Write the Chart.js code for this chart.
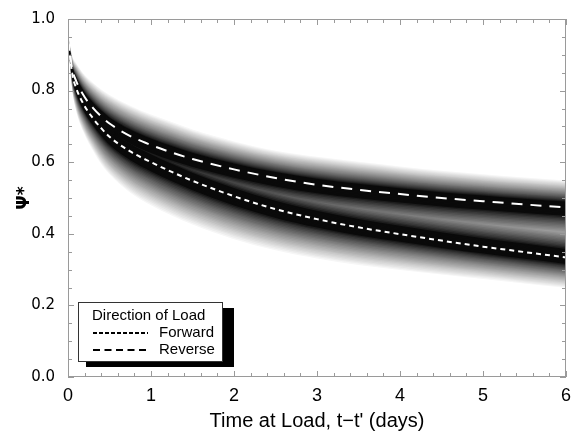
<!DOCTYPE html>
<html>
<head>
<meta charset="utf-8">
<script src="https://cdn.jsdelivr.net/npm/chart.js@4.4.1/dist/chart.umd.min.js"></script>
<style>
  html, body { margin: 0; padding: 0; background: #fff; }
  #wrap { width: 578px; height: 441px; }
</style>
</head>
<body>
<div id="wrap"><canvas id="c" width="578" height="441"></canvas></div>
<script>
// ---- data ----
const timeDays   = [0, 0.05, 0.1, 0.2, 0.3, 0.4, 0.5, 0.75, 1, 1.25, 1.5, 2, 2.5, 3, 3.5, 4, 4.5, 5, 5.5, 6];
const reversePsi = [0.95, 0.862, 0.826, 0.782, 0.752, 0.728, 0.708, 0.673, 0.648, 0.627, 0.609, 0.580, 0.556, 0.537, 0.523, 0.511, 0.500, 0.491, 0.482, 0.474];
const forwardPsi = [0.95, 0.848, 0.806, 0.757, 0.723, 0.695, 0.671, 0.630, 0.600, 0.573, 0.548, 0.505, 0.469, 0.441, 0.418, 0.399, 0.381, 0.364, 0.349, 0.334];
// extent of the grey density cloud above / below each curve
const reverseUp   = [0.01, 0.035, 0.05, 0.062, 0.07, 0.075, 0.08, 0.085, 0.085, 0.085, 0.082, 0.078, 0.076, 0.078, 0.078, 0.077, 0.076, 0.075, 0.075, 0.075];
const reverseDown = [0.01, 0.04, 0.055, 0.07, 0.08, 0.09, 0.095, 0.1, 0.105, 0.105, 0.105, 0.108, 0.11, 0.11, 0.11, 0.11, 0.11, 0.11, 0.11, 0.11];
const forwardUp   = [0.01, 0.04, 0.055, 0.07, 0.08, 0.09, 0.095, 0.1, 0.105, 0.105, 0.105, 0.108, 0.11, 0.11, 0.11, 0.11, 0.11, 0.11, 0.11, 0.11];
const forwardDown = [0.01, 0.045, 0.065, 0.08, 0.09, 0.1, 0.105, 0.115, 0.12, 0.122, 0.122, 0.12, 0.115, 0.11, 0.105, 0.1, 0.095, 0.09, 0.088, 0.085];
const xTicks = [0, 1, 2, 3, 4, 5, 6];
const yTicks = [0.0, 0.2, 0.4, 0.6, 0.8, 1.0];
const seriesNames = ['Forward', 'Reverse'];

// ---- build datasets ----
const N = 28;
function shade(f) {
  const u = Math.max(0, Math.min(1, (f - 0.2) / 0.8));
  const g = Math.round(10 + 240 * Math.pow(u, 0.8));
  return `rgb(${g},${g},${g})`;
}
const pts = (arr) => timeDays.map((t, i) => ({ x: t, y: arr[i] }));
const datasets = [];
const curves = [
  { c: reversePsi, up: reverseUp, dn: reverseDown },
  { c: forwardPsi, up: forwardUp, dn: forwardDown }
];
const bandBase = { pointRadius: 0, borderWidth: 0, cubicInterpolationMode: 'monotone' };
for (let k = N; k >= 1; k--) {
  const f = k / N;
  const col = shade((k - 0.5) / N);
  for (const cv of curves) {
    const upper = cv.c.map((v, i) => v + cv.up[i] * f);
    const lower = cv.c.map((v, i) => v - cv.dn[i] * f);
    const idx = datasets.length;
    datasets.push(Object.assign({ data: pts(upper), fill: false, order: k + 1, borderColor: 'rgba(0,0,0,0)' }, bandBase));
    datasets.push(Object.assign({ data: pts(lower), fill: { target: idx }, backgroundColor: col, order: k + 1, borderColor: 'rgba(0,0,0,0)' }, bandBase));
  }
}
datasets.push({ label: seriesNames[1], data: pts(reversePsi), borderColor: '#ffffff', borderWidth: 2, borderDash: [11, 8], pointRadius: 0, fill: false, order: 0, cubicInterpolationMode: 'monotone' });
datasets.push({ label: seriesNames[0], data: pts(forwardPsi), borderColor: '#ffffff', borderWidth: 2, borderDash: [5, 4], pointRadius: 0, fill: false, order: 0, cubicInterpolationMode: 'monotone' });

// ---- frame, inward ticks, legend ----
const framePlugin = {
  id: 'frame',
  afterDatasetsDraw(chart) {
    const { ctx, chartArea: a, scales: { x, y } } = chart;
    ctx.save();
    ctx.strokeStyle = '#9a9a9a';
    ctx.lineWidth = 1;
    ctx.strokeRect(a.left + 0.5, a.top + 0.5, a.right - a.left - 1, a.bottom - a.top - 1);
    ctx.beginPath();
    for (let i = 0; i <= 30; i++) {
      const v = i * 0.2;
      const px = Math.round(x.getPixelForValue(v)) + 0.5;
      const len = (i % 5 === 0) ? 6 : 4;
      ctx.moveTo(px, a.bottom); ctx.lineTo(px, a.bottom - len);
      ctx.moveTo(px, a.top); ctx.lineTo(px, a.top + len);
    }
    for (let i = 0; i <= 20; i++) {
      const v = i * 0.05;
      const py = Math.round(y.getPixelForValue(v)) + 0.5;
      const len = (i % 4 === 0) ? 6 : 4;
      ctx.moveTo(a.left, py); ctx.lineTo(a.left + len, py);
      ctx.moveTo(a.right, py); ctx.lineTo(a.right - len, py);
    }
    ctx.stroke();

    // legend with drop shadow
    const bx = 78, by = 302, bw = 144, bh = 59;
    ctx.fillStyle = '#000';
    ctx.fillRect(bx + 8, by + 6, bw + 4, bh);
    ctx.fillStyle = '#fff';
    ctx.fillRect(bx, by, bw, bh);
    ctx.strokeStyle = '#333';
    ctx.strokeRect(bx + 0.5, by + 0.5, bw, bh);
    ctx.fillStyle = '#000';
    ctx.font = '15px "Liberation Sans", Arial, sans-serif';
    ctx.textBaseline = 'middle';
    ctx.textAlign = 'left';
    ctx.fillText('Direction of Load', 92, 316);
    ctx.fillText(seriesNames[0], 159, 333);
    ctx.fillText(seriesNames[1], 159, 350);
    ctx.strokeStyle = '#000';
    ctx.lineWidth = 2;
    ctx.setLineDash([4, 2]);
    ctx.beginPath(); ctx.moveTo(93, 333); ctx.lineTo(148, 333); ctx.stroke();
    ctx.setLineDash([7, 4.5]);
    ctx.beginPath(); ctx.moveTo(93, 350); ctx.lineTo(148, 350); ctx.stroke();
    ctx.restore();
  }
};

new Chart(document.getElementById('c'), {
  type: 'line',
  data: { datasets },
  options: {
    responsive: false,
    animation: false,
    events: [],
    layout: { padding: { top: 19, right: 12, left: 0, bottom: 0 } },
    plugins: { legend: { display: false }, tooltip: { enabled: false } },
    scales: {
      x: {
        type: 'linear', min: 0, max: 6,
        afterFit(s) { s.height = 64; },
        afterBuildTicks(s) { s.ticks = xTicks.map(v => ({ value: v })); },
        grid: { display: false }, border: { display: false },
        ticks: { color: '#000', padding: 0, font: { family: '"Liberation Sans", Arial, sans-serif', size: 18 }, callback: v => String(v) },
        title: { display: true, text: "Time at Load, t\u2212t' (days)", color: '#000', font: { family: '"Liberation Sans", Arial, sans-serif', size: 20 }, padding: { top: 0, bottom: 8 } }
      },
      y: {
        type: 'linear', min: 0, max: 1,
        afterFit(s) { s.width = 68; },
        afterBuildTicks(s) { s.ticks = yTicks.map(v => ({ value: v })); },
        grid: { display: false }, border: { display: false },
        ticks: { color: '#000', padding: 5, font: { family: '"DejaVu Sans", sans-serif', size: 15 }, callback: v => Number(v).toFixed(1) },
        title: { display: true, text: '\u03A8*', color: '#000', font: { family: '"DejaVu Sans", sans-serif', size: 17, weight: 'bold' }, padding: { top: 14, bottom: 0 } }
      }
    }
  },
  plugins: [framePlugin]
});
</script>
</body>
</html>
